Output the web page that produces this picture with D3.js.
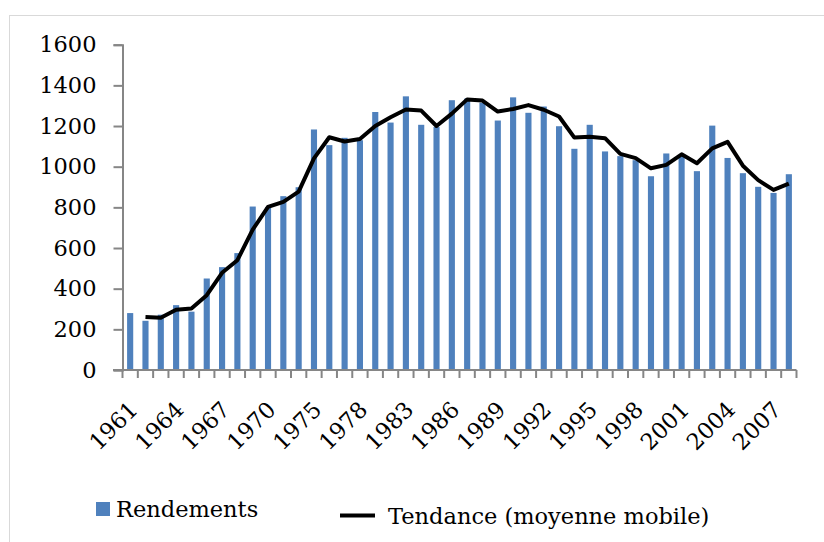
<!DOCTYPE html>
<html>
<head>
<meta charset="utf-8">
<script src="https://cdn.jsdelivr.net/npm/d3@7"></script>
<style>
  body { margin: 0; background: #fff; }
  svg text { font-family: "DejaVu Serif", serif; fill: #000; }
</style>
</head>
<body>
<svg id="chart" width="824" height="542"></svg>
<script>
// categories (some years are missing in the source series)
const years = [1961, 1962, 1963, 1964, 1965, 1966, 1967, 1968, 1969, 1970,
  1973, 1974, 1975, 1976, 1977, 1978, 1981, 1982,
  1983, 1984, 1985, 1986, 1987, 1988, 1989, 1990, 1991, 1992, 1993, 1994,
  1995, 1996, 1997, 1998, 1999, 2000, 2001, 2002, 2003, 2004, 2005, 2006,
  2007, 2008];

// yields (bars)
const rendements = [280, 242, 272, 319, 287, 450, 506, 575, 804, 800,
  855, 899, 1183, 1106, 1142, 1130, 1269, 1217,
  1346, 1206, 1195, 1327, 1335, 1315, 1227, 1341, 1265, 1296, 1199, 1088,
  1206, 1075, 1052, 1032, 953, 1065, 1057, 978, 1202, 1043, 968, 901,
  871, 963];

// trend line (moving average), first year has no value
const tendance = [null, 261, 257, 296, 303, 368, 478, 540, 690, 802,
  827, 877, 1041, 1145, 1124, 1136, 1200, 1243,
  1281, 1276, 1200, 1261, 1331, 1325, 1271, 1284, 1303, 1280, 1247, 1143,
  1147, 1140, 1063, 1042, 992, 1009, 1061, 1017, 1090, 1122, 1005, 934,
  886, 917];

const yTicks = [0, 200, 400, 600, 800, 1000, 1200, 1400, 1600];
const tickLabels = ["1961", "1964", "1967", "1970", "1975", "1978", "1983", "1986",
  "1989", "1992", "1995", "1998", "2001", "2004", "2007"];

const svg = d3.select("#chart");

// light frame around the chart
svg.append("rect")
  .attr("x", 9.5).attr("y", 15.5)
  .attr("width", 840).attr("height", 560)
  .attr("fill", "none")
  .attr("stroke", "#d9d9d9");

const x = d3.scaleBand()
  .domain(years.map(String))
  .range([122.5, 796.5])
  .padding(0);

const y = d3.scaleLinear()
  .domain([0, 1600])
  .range([370, 44.7]);

const axisColor = "#868686";

// bars
const barW = x.bandwidth() * 0.4;
svg.append("g")
  .selectAll("rect")
  .data(rendements)
  .enter()
  .append("rect")
  .attr("x", (d, i) => x(String(years[i])) + (x.bandwidth() - barW) / 2)
  .attr("y", (d) => y(d))
  .attr("width", barW)
  .attr("height", (d) => y(0) - y(d))
  .attr("fill", "#4f81bd");

// y axis
const yAxis = svg.append("g")
  .attr("transform", "translate(122.5,0)")
  .call(d3.axisLeft(y).tickValues(yTicks).tickSize(9).tickPadding(17).tickFormat(d3.format("d")));
yAxis.select(".domain").attr("stroke", axisColor).attr("stroke-width", 2);
yAxis.selectAll(".tick line").attr("stroke", axisColor).attr("stroke-width", 2);
yAxis.selectAll(".tick text")
  .style("font-family", "DejaVu Serif")
  .style("font-size", "22.5px");

// x axis: ticks between categories
const xg = svg.append("g");
xg.append("line")
  .attr("x1", 113).attr("x2", 796.5)
  .attr("y1", y(0)).attr("y2", y(0))
  .attr("stroke", axisColor).attr("stroke-width", 2);

const boundaries = years.map((d) => x(String(d))).concat([x.range()[1]]);
xg.selectAll("line.tk")
  .data(boundaries)
  .enter()
  .append("line")
  .attr("class", "tk")
  .attr("x1", (d) => d).attr("x2", (d) => d)
  .attr("y1", y(0)).attr("y2", y(0) + 8)
  .attr("stroke", axisColor).attr("stroke-width", 2);

xg.selectAll("text")
  .data(tickLabels)
  .enter()
  .append("text")
  .attr("transform", (d) => {
    const cx = x(d) + x.bandwidth() / 2;
    return "translate(" + (cx + 9) + "," + 411 + ") rotate(-45)";
  })
  .attr("text-anchor", "end")
  .style("font-size", "22.5px")
  .text((d) => d);

// trend line
const line = d3.line()
  .defined((d) => d != null)
  .x((d, i) => x(String(years[i])) + x.bandwidth() / 2)
  .y((d) => y(d));

svg.append("path")
  .datum(tendance)
  .attr("d", line)
  .attr("fill", "none")
  .attr("stroke", "#000")
  .attr("stroke-width", 4)
  .attr("stroke-linejoin", "round");

// legend
const legend = svg.append("g");
legend.append("rect")
  .attr("x", 96).attr("y", 502)
  .attr("width", 14).attr("height", 14)
  .attr("fill", "#4f81bd");
legend.append("text")
  .attr("x", 116).attr("y", 517)
  .style("font-size", "22.5px")
  .text("Rendements");
legend.append("line")
  .attr("x1", 340).attr("x2", 375)
  .attr("y1", 515.5).attr("y2", 515.5)
  .attr("stroke", "#000")
  .attr("stroke-width", 4);
legend.append("text")
  .attr("x", 388).attr("y", 524)
  .style("font-size", "22.5px")
  .text("Tendance (moyenne mobile)");
</script>
</body>
</html>
